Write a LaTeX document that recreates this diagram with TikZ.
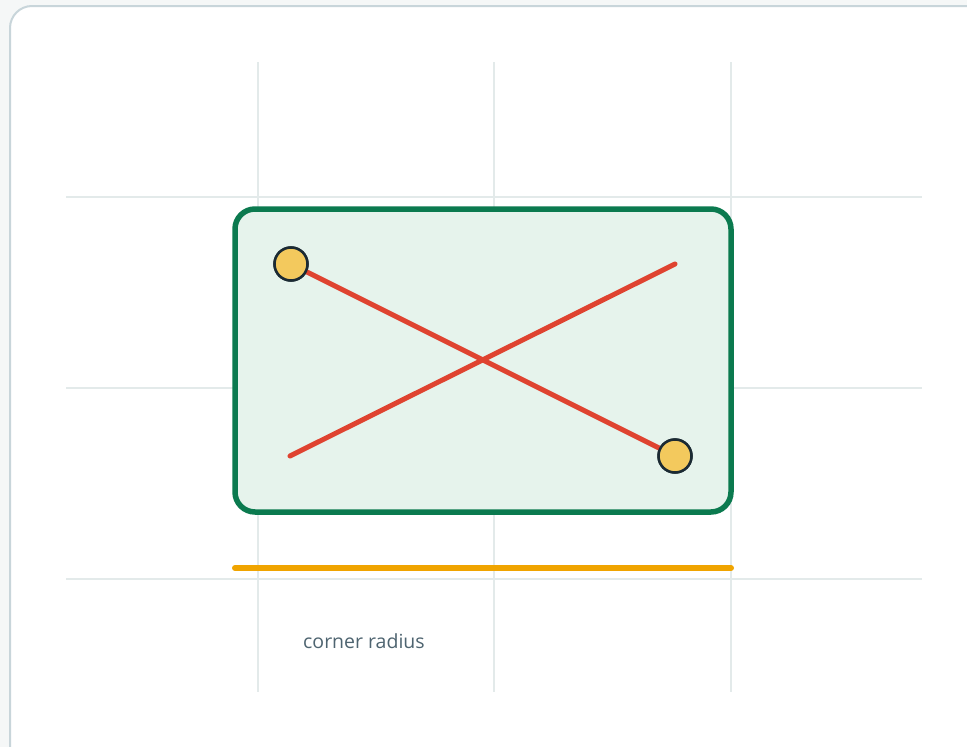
\documentclass[tikz,border=0pt]{standalone}
\usepackage{fontspec}
\setmainfont{Open Sans}
\definecolor{bgout}{HTML}{F5F7F7}
\definecolor{framec}{HTML}{C8D5DA}
\definecolor{gridc}{HTML}{E3EAEA}
\definecolor{greenc}{HTML}{0B7A4F}
\definecolor{greenfill}{HTML}{E6F3EC}
\definecolor{redc}{HTML}{DF4330}
\definecolor{dotfill}{HTML}{F3C95D}
\definecolor{dotline}{HTML}{1B2A33}
\definecolor{orangec}{HTML}{F0A400}
\definecolor{textc}{HTML}{4E6470}
\tikzset{
  gridline/.style={gridc, line width=1.2pt},
  redline/.style={redc, line width=5pt, line cap=round},
  handle/.style={circle, fill=dotfill, draw=dotline, line width=2.5pt, minimum size=33pt, inner sep=0pt},
  cornerbox/.style={draw=greenc, fill=greenfill, line width=5.5pt, rounded corners=20pt},
}
\begin{document}
\begin{tikzpicture}[x=1pt,y=-1pt]
\useasboundingbox (0,0) rectangle (967,747);
\clip (0,0) rectangle (967,747);
\fill[bgout] (0,0) rectangle (967,747);
\draw[framec, fill=white, line width=2pt, rounded corners=22pt] (10,6) rectangle (1000,780);
% grid
\foreach \x in {258,494,731} \draw[gridline] (\x,62) -- (\x,692);
\foreach \y in {197,388,579} \draw[gridline] (66,\y) -- (922,\y);
% box
\draw[cornerbox] (235,209) rectangle (731,512);
% handles
\node[handle] (h1) at (291,264) {};
\node[handle] (h2) at (675,456) {};
\coordinate (c1) at (290,456);
\coordinate (c2) at (675,264);
\draw[redline] (c1) -- (c2);
\draw[redline] (h1) -- (h2);
\node[handle] at (h1) {};
\node[handle] at (h2) {};
% orange
\coordinate (o1) at (235,568);
\coordinate (o2) at (731,568);
\draw[orangec, line width=6pt, line cap=round] (o1) -- (o2);
\node[anchor=west, text=textc, font=\fontsize{19.5}{23}\selectfont, inner sep=0pt] (lbl) at (303,641) {corner radius};
\end{tikzpicture}
\end{document}
